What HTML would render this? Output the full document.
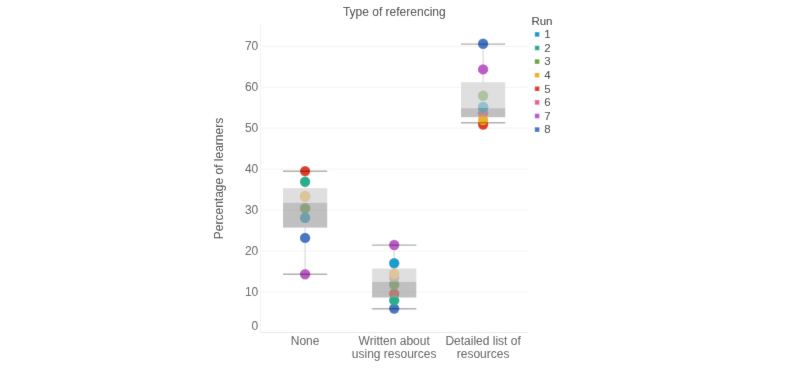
<!DOCTYPE html>
<html><head><meta charset="utf-8"><style>
html,body{margin:0;padding:0;background:#fff;}
svg{display:block;font-family:"Liberation Sans",sans-serif;will-change:transform;}
</style></head><body>
<svg width="799" height="375" viewBox="0 0 799 375">
<defs><filter id="soft" x="0" y="0" width="799" height="375" filterUnits="userSpaceOnUse"><feConvolveMatrix order="3" kernelMatrix="0.015 0.06 0.015 0.06 0.7 0.06 0.015 0.06 0.015" edgeMode="duplicate" preserveAlpha="false"/></filter></defs>
<g filter="url(#soft)">
<rect width="799" height="375" fill="#fff"/>
<text x="394.3" y="15.6" font-size="12" fill="#333" text-anchor="middle">Type of referencing</text>
<text transform="translate(222.6,178.5) rotate(-90)" font-size="12" fill="#333" text-anchor="middle">Percentage of learners</text>
<line x1="260.5" x2="528" y1="291.95" y2="291.95" stroke="#f4f4f4" stroke-width="1"/>
<line x1="260.5" x2="528" y1="251.00" y2="251.00" stroke="#f4f4f4" stroke-width="1"/>
<line x1="260.5" x2="528" y1="210.05" y2="210.05" stroke="#f4f4f4" stroke-width="1"/>
<line x1="260.5" x2="528" y1="169.10" y2="169.10" stroke="#f4f4f4" stroke-width="1"/>
<line x1="260.5" x2="528" y1="128.15" y2="128.15" stroke="#f4f4f4" stroke-width="1"/>
<line x1="260.5" x2="528" y1="87.20" y2="87.20" stroke="#f4f4f4" stroke-width="1"/>
<line x1="260.5" x2="528" y1="46.25" y2="46.25" stroke="#f4f4f4" stroke-width="1"/>
<line x1="260.5" x2="260.5" y1="24" y2="333" stroke="#f3f3f3" stroke-width="1"/>
<line x1="260.5" x2="528" y1="332.4" y2="332.4" stroke="#e8e8e8" stroke-width="1"/>
<text x="258.3" y="295.75" font-size="12" fill="#555" text-anchor="end">10</text>
<text x="258.3" y="254.80" font-size="12" fill="#555" text-anchor="end">20</text>
<text x="258.3" y="213.85" font-size="12" fill="#555" text-anchor="end">30</text>
<text x="258.3" y="172.90" font-size="12" fill="#555" text-anchor="end">40</text>
<text x="258.3" y="131.95" font-size="12" fill="#555" text-anchor="end">50</text>
<text x="258.3" y="91.00" font-size="12" fill="#555" text-anchor="end">60</text>
<text x="258.3" y="50.05" font-size="12" fill="#555" text-anchor="end">70</text>
<text x="258.3" y="329.7" font-size="12" fill="#555" text-anchor="end">0</text>
<text x="305.1" y="344.6" font-size="12" fill="#555" text-anchor="middle">None</text>
<text x="394.2" y="344.6" font-size="12" fill="#555" text-anchor="middle">Written about</text>
<text x="394.2" y="358.2" font-size="12" fill="#555" text-anchor="middle">using resources</text>
<text x="483.1" y="344.6" font-size="12" fill="#555" text-anchor="middle">Detailed list of</text>
<text x="483.1" y="358.2" font-size="12" fill="#555" text-anchor="middle">resources</text>
<line x1="305.1" x2="305.1" y1="171.2" y2="188.2" stroke="#dcdcdc" stroke-width="1.3"/>
<line x1="305.1" x2="305.1" y1="227.6" y2="274.2" stroke="#dcdcdc" stroke-width="1.3"/>
<line x1="394.2" x2="394.2" y1="245.1" y2="268.5" stroke="#dcdcdc" stroke-width="1.3"/>
<line x1="394.2" x2="394.2" y1="297.5" y2="308.7" stroke="#dcdcdc" stroke-width="1.3"/>
<line x1="483.1" x2="483.1" y1="44.1" y2="82.2" stroke="#dcdcdc" stroke-width="1.3"/>
<line x1="483.1" x2="483.1" y1="117.2" y2="122.8" stroke="#dcdcdc" stroke-width="1.3"/>
<circle cx="305.1" cy="237.9" r="5.2" fill="#4677c4"/>
<circle cx="394.2" cy="308.6" r="5.2" fill="#4677c4"/>
<circle cx="483.1" cy="43.8" r="5.2" fill="#4677c4"/>
<circle cx="305.1" cy="274.3" r="5.2" fill="#bb5cc6"/>
<circle cx="394.2" cy="245" r="5.2" fill="#bb5cc6"/>
<circle cx="483.1" cy="69.4" r="5.2" fill="#bb5cc6"/>
<circle cx="305.1" cy="196.5" r="5.2" fill="#e8608e"/>
<circle cx="394.2" cy="277.8" r="5.2" fill="#e8608e"/>
<circle cx="483.1" cy="113.3" r="5.2" fill="#e8608e"/>
<circle cx="305.1" cy="171.1" r="5.2" fill="#e03c28"/>
<circle cx="394.2" cy="293.8" r="5.2" fill="#e03c28"/>
<circle cx="483.1" cy="124.6" r="5.2" fill="#e03c28"/>
<circle cx="305.1" cy="196" r="5.2" fill="#f5af28"/>
<circle cx="394.2" cy="273.6" r="5.2" fill="#f5af28"/>
<circle cx="483.1" cy="119.9" r="5.2" fill="#f5af28"/>
<circle cx="305.1" cy="208.3" r="5.2" fill="#67a83e"/>
<circle cx="394.2" cy="284.5" r="5.2" fill="#67a83e"/>
<circle cx="483.1" cy="95.8" r="5.2" fill="#67a83e"/>
<circle cx="305.1" cy="181.8" r="5.2" fill="#28af8c"/>
<circle cx="394.2" cy="300.4" r="5.2" fill="#28af8c"/>
<circle cx="483.1" cy="107.3" r="5.2" fill="#28af8c"/>
<circle cx="305.1" cy="217.8" r="5.2" fill="#1a9bcd"/>
<circle cx="394.2" cy="263.3" r="5.2" fill="#1a9bcd"/>
<circle cx="483.1" cy="107" r="5.2" fill="#1a9bcd"/>
<rect x="283.00" y="188.2" width="44.2" height="14.60" fill="#d0d0d0" fill-opacity="0.68"/>
<rect x="283.00" y="202.8" width="44.2" height="24.80" fill="#a0a0a0" fill-opacity="0.66"/>
<line x1="283.00" x2="327.20" y1="171.2" y2="171.2" stroke="#000" stroke-opacity="0.32" stroke-width="1.4"/>
<line x1="283.00" x2="327.20" y1="274.2" y2="274.2" stroke="#000" stroke-opacity="0.32" stroke-width="1.4"/>
<rect x="372.10" y="268.5" width="44.2" height="13.30" fill="#d0d0d0" fill-opacity="0.68"/>
<rect x="372.10" y="281.8" width="44.2" height="15.70" fill="#a0a0a0" fill-opacity="0.66"/>
<line x1="372.10" x2="416.30" y1="245.1" y2="245.1" stroke="#000" stroke-opacity="0.32" stroke-width="1.4"/>
<line x1="372.10" x2="416.30" y1="308.7" y2="308.7" stroke="#000" stroke-opacity="0.32" stroke-width="1.4"/>
<rect x="461.00" y="82.2" width="44.2" height="26.00" fill="#d0d0d0" fill-opacity="0.68"/>
<rect x="461.00" y="108.2" width="44.2" height="9.00" fill="#a0a0a0" fill-opacity="0.66"/>
<line x1="461.00" x2="505.20" y1="44.1" y2="44.1" stroke="#000" stroke-opacity="0.32" stroke-width="1.4"/>
<line x1="461.00" x2="505.20" y1="122.8" y2="122.8" stroke="#000" stroke-opacity="0.32" stroke-width="1.4"/>
<text x="531.4" y="24.8" font-size="11.5" fill="#222">Run</text>
<rect x="534.8" y="32.10" width="4.6" height="4.6" fill="#1a9bcd"/>
<text x="544.2" y="38.10" font-size="11.5" fill="#222">1</text>
<rect x="534.8" y="45.70" width="4.6" height="4.6" fill="#28af8c"/>
<text x="544.2" y="51.70" font-size="11.5" fill="#222">2</text>
<rect x="534.8" y="59.30" width="4.6" height="4.6" fill="#67a83e"/>
<text x="544.2" y="65.30" font-size="11.5" fill="#222">3</text>
<rect x="534.8" y="72.90" width="4.6" height="4.6" fill="#f5af28"/>
<text x="544.2" y="78.90" font-size="11.5" fill="#222">4</text>
<rect x="534.8" y="86.50" width="4.6" height="4.6" fill="#e03c28"/>
<text x="544.2" y="92.50" font-size="11.5" fill="#222">5</text>
<rect x="534.8" y="100.10" width="4.6" height="4.6" fill="#e8608e"/>
<text x="544.2" y="106.10" font-size="11.5" fill="#222">6</text>
<rect x="534.8" y="113.70" width="4.6" height="4.6" fill="#bb5cc6"/>
<text x="544.2" y="119.70" font-size="11.5" fill="#222">7</text>
<rect x="534.8" y="127.30" width="4.6" height="4.6" fill="#4677c4"/>
<text x="544.2" y="133.30" font-size="11.5" fill="#222">8</text>
</g></svg></body></html>
